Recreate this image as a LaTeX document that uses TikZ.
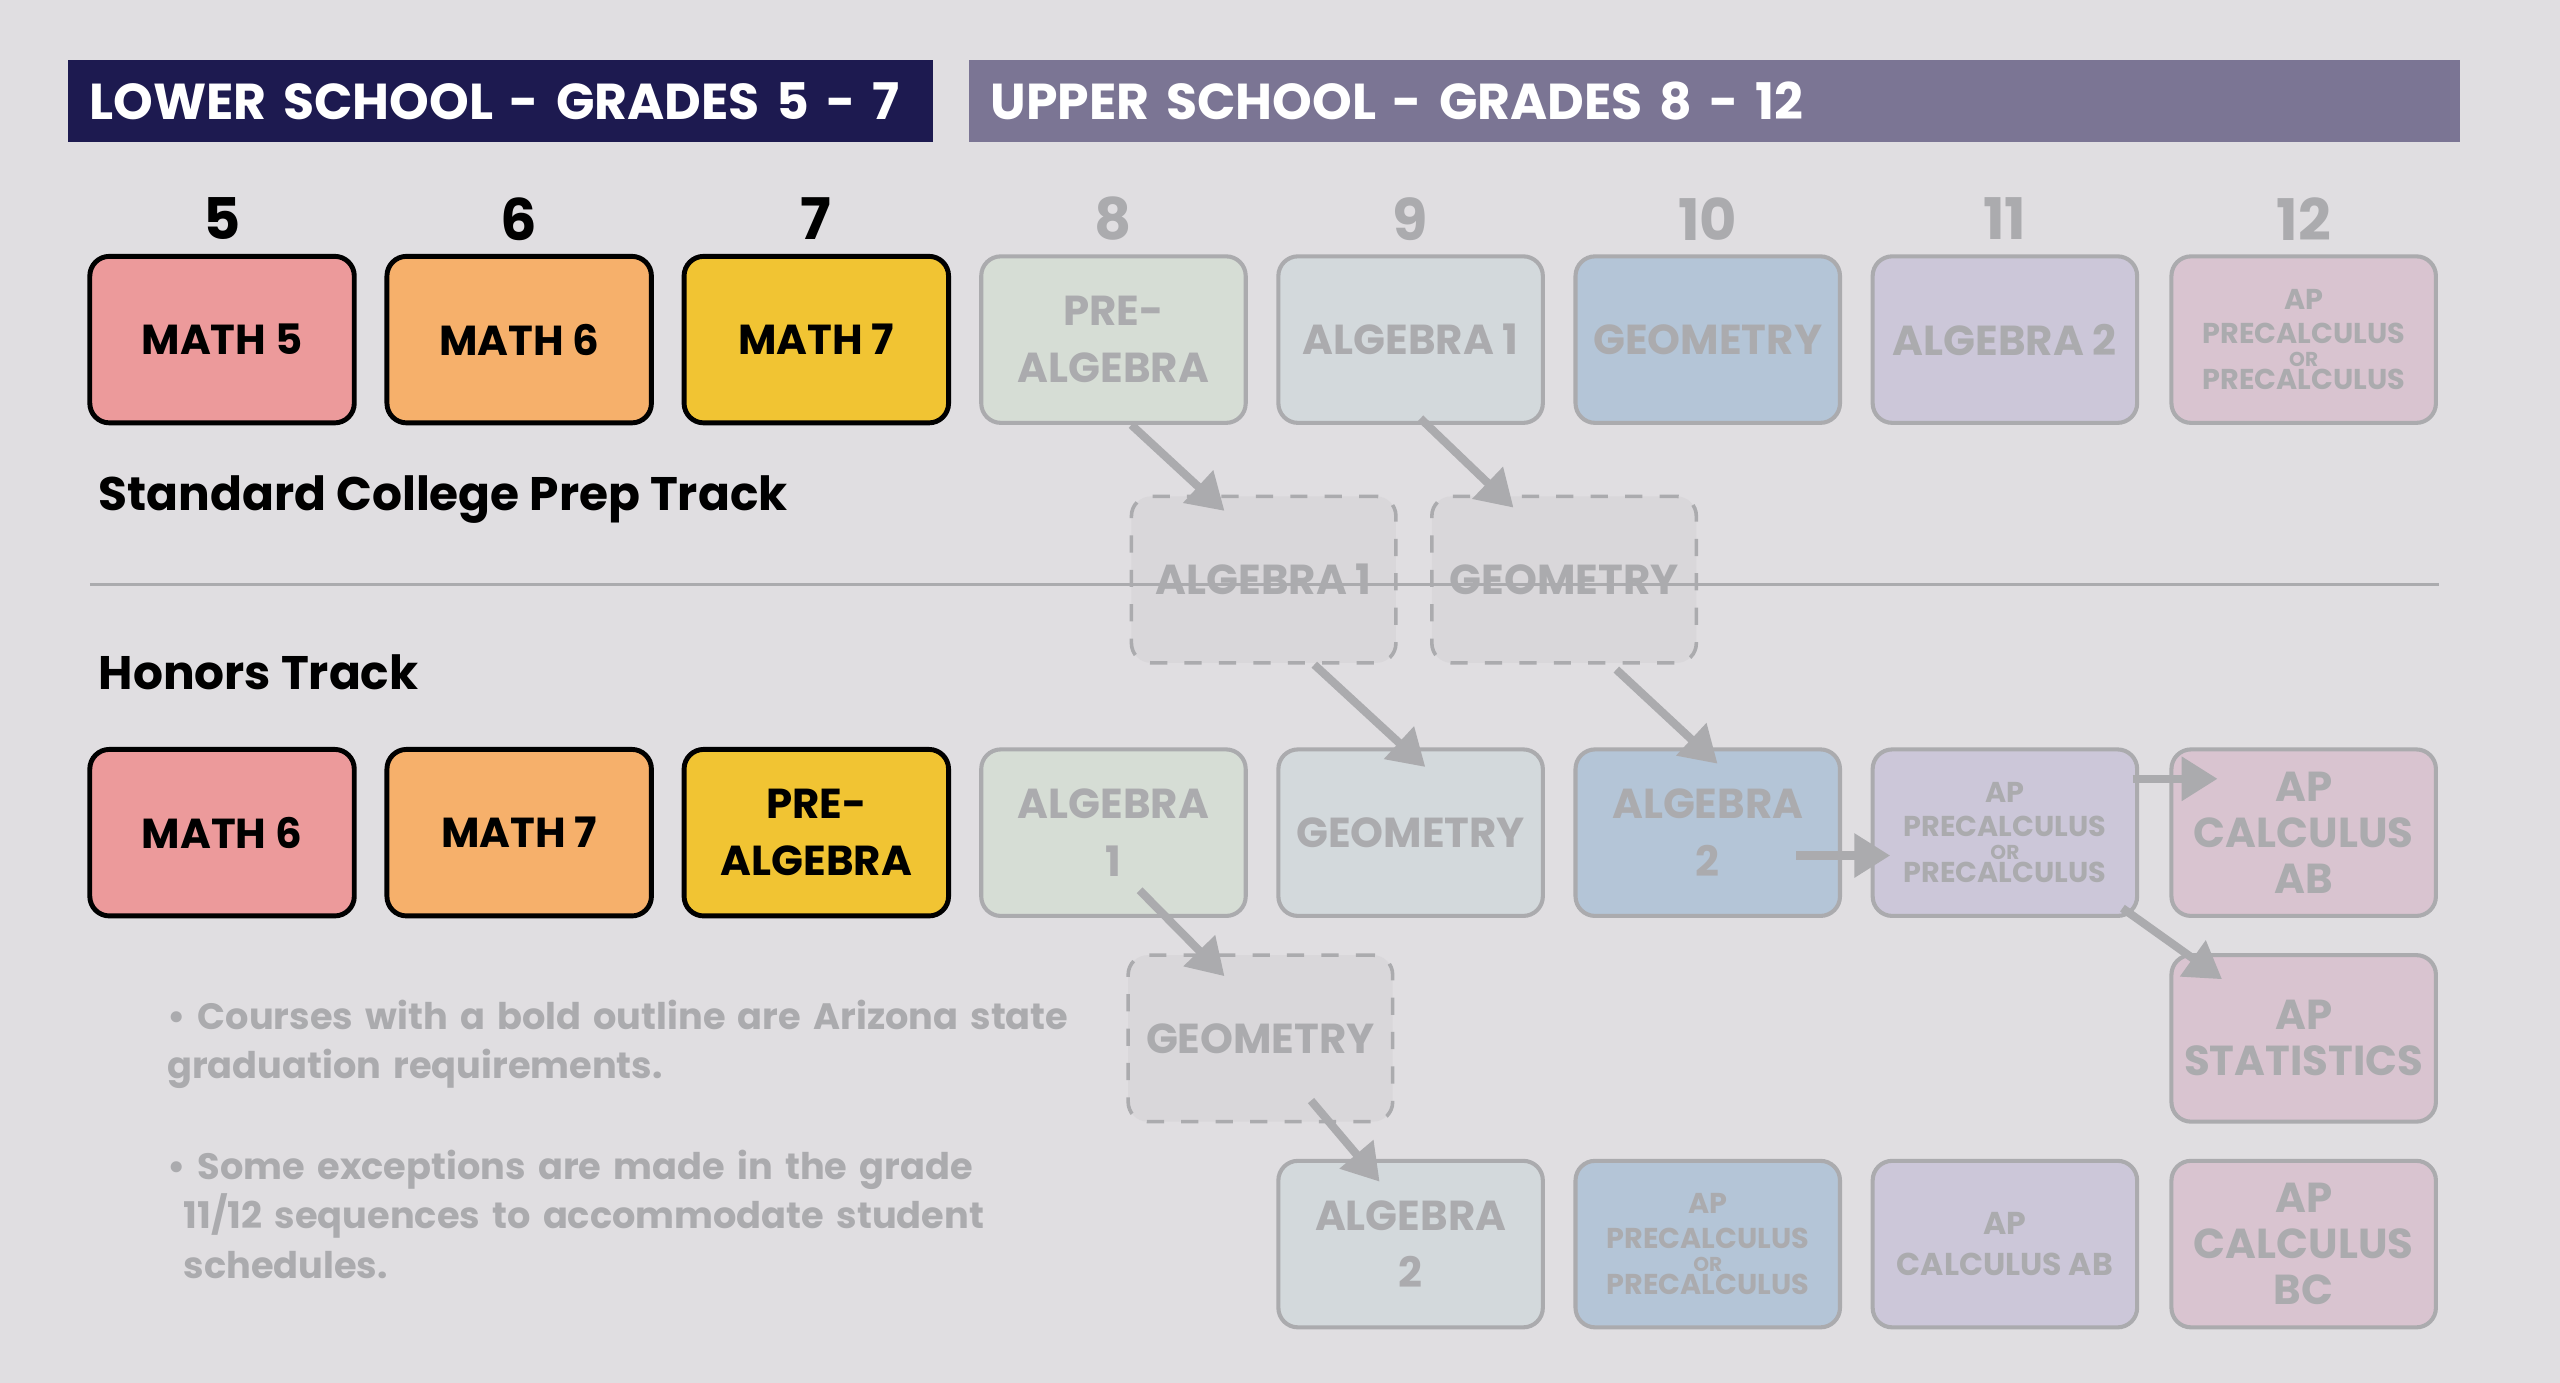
\documentclass[tikz,border=0pt]{standalone}
\usepackage{fontspec}
\setmainfont{Poppins}
\usetikzlibrary{arrows.meta}
\definecolor{bgpaper}{HTML}{E0DEE1}
\definecolor{lowhead}{HTML}{1D1A50}
\definecolor{uphead}{HTML}{7B7594}
\definecolor{fadetext}{HTML}{ABABAE}
\definecolor{redbox}{HTML}{EC9A9B}
\definecolor{orangebox}{HTML}{F6B06B}
\definecolor{yellowbox}{HTML}{F1C433}
\definecolor{greenbox}{HTML}{D6DDD5}
\definecolor{greybox}{HTML}{D3D9DC}
\definecolor{bluebox}{HTML}{B4C5D7}
\definecolor{purplebox}{HTML}{CCC7D9}
\definecolor{pinkbox}{HTML}{D9C4D0}
\definecolor{dashfill}{HTML}{D9D7DA}
\newcommand{\apprecalc}{AP\\PRECALCULUS\\[-2pt]\fontsize{3.5}{4}\selectfont OR\\[-2pt]\fontsize{5}{6}\selectfont PRECALCULUS}
\tikzset{
  course/.style={rounded corners=1.2mm, minimum width=16.2mm, minimum height=10.2mm,
    align=center, font=\fontsize{7.3}{9}\selectfont\bfseries, inner sep=0pt},
  lowbox/.style={course, draw=black, line width=0.3mm, fill=#1},
  upbox/.style={course, draw=fadetext, line width=0.25mm, fill=#1, text=fadetext},
  apbox/.style={upbox=#1, font=\fontsize{5}{6}\selectfont\bfseries},
  dashbox/.style={course, draw=fadetext, dashed, line width=0.22mm, fill=dashfill, text=fadetext},
  grade/.style={font=\fontsize{10}{12}\selectfont\bfseries},
  track/.style={font=\fontsize{8.2}{10}\selectfont\bfseries, anchor=west},
  arr/.style={draw=fadetext, line width=0.5mm, -{Triangle[length=2.2mm,width=2.6mm]}},
}
\begin{document}
\begin{tikzpicture}[x=0.1mm,y=-0.1mm]
    \fill[bgpaper] (0,0) rectangle (1568,847);
    \useasboundingbox (0,0) rectangle (1568,847);

    % Headers
    \node[fill=lowhead, text=white, minimum width=53mm, minimum height=5mm, font=\fontsize{8.8}{10}\selectfont\bfseries, anchor=north west, inner xsep=1.3mm, text width=50.4mm] (lowhead) at (41,36) {LOWER SCHOOL - GRADES 5 - 7};
    \node[fill=uphead, text=white, minimum width=91.3mm, minimum height=5mm, font=\fontsize{8.8}{10}\selectfont\bfseries, anchor=north west, inner xsep=1.3mm, text width=88.7mm] (uphead) at (593,36) {UPPER SCHOOL - GRADES 8 - 12};

    % Grade numbers
    \foreach \g/\x in {5/136,6/318,7/500}
        \node[grade] (g\g) at (\x,134) {\g};
    \foreach \g/\x in {8/682,9/864,10/1046,11/1228,12/1411}
        \node[grade, text=fadetext] (g\g) at (\x,134) {\g};

    % Standard track
    \node[lowbox=redbox] (s5) at (136,208) {MATH 5};
    \node[lowbox=orangebox] (s6) at (318,208) {MATH 6};
    \node[lowbox=yellowbox] (s7) at (500,208) {MATH 7};
    \node[upbox=greenbox] (s8) at (682,208) {PRE-\\[1pt]ALGEBRA};
    \node[upbox=greybox] (s9) at (864,208) {ALGEBRA 1};
    \node[upbox=bluebox] (s10) at (1046,208) {GEOMETRY};
    \node[upbox=purplebox] (s11) at (1228,208) {ALGEBRA 2};
    \node[apbox=pinkbox] (s12) at (1411,208) {\apprecalc};
    \node[dashbox] (s9alt) at (774,355) {ALGEBRA 1};
    \node[dashbox] (s10alt) at (958,355) {GEOMETRY};

    \node[track] (stdlabel) at (48,306) {Standard College Prep Track};
    \draw[fadetext, line width=0.2mm] (55,358) -- (1494,358);
    \node[track] (honlabel) at (48,412) {Honors Track};

    % Honors track
    \node[lowbox=redbox] (h5) at (136,510) {MATH 6};
    \node[lowbox=orangebox] (h6) at (318,510) {MATH 7};
    \node[lowbox=yellowbox] (h7) at (500,510) {PRE-\\[1pt]ALGEBRA};
    \node[upbox=greenbox] (h8) at (682,510) {ALGEBRA\\[1pt]1};
    \node[upbox=greybox] (h9) at (864,510) {GEOMETRY};
    \node[upbox=bluebox] (h10) at (1046,510) {ALGEBRA\\[1pt]2};
    \node[apbox=purplebox] (h11) at (1228,510) {\apprecalc};
    \node[upbox=pinkbox] (h12) at (1411,510) {AP\\[-1pt]CALCULUS\\[-1pt]AB};
    \node[dashbox] (h9alt) at (772,636) {GEOMETRY};
    \node[upbox=pinkbox] (h12b) at (1411,636) {AP\\[-1pt]STATISTICS};
    \node[upbox=greybox] (h10b) at (864,762) {ALGEBRA\\[1pt]2};
    \node[apbox=bluebox] (h11b) at (1046,762) {\apprecalc};
    \node[apbox=purplebox, font=\fontsize{5.5}{7}\selectfont\bfseries] (h12c) at (1228,762) {AP\\CALCULUS AB};
    \node[upbox=pinkbox] (h12d) at (1411,762) {AP\\[-1pt]CALCULUS\\[-1pt]BC};

    % Notes
    \node[anchor=north west, text=fadetext, text width=56mm, font=\fontsize{6.4}{8.6}\selectfont\bfseries] (notes) at (90,600)
        {\textbullet\ Courses with a bold outline are Arizona state graduation requirements.\\[9pt]
         \textbullet\ Some exceptions are made in the grade\\ \hspace*{1mm}11/12 sequences to accommodate student\\ \hspace*{1mm}schedules.};

    % Arrows
    \draw[arr] ([shift={(11,0)}]s8.south) -- ([shift={(-24,10)}]s9alt.north);
    \draw[arr] ([shift={(6,-4)}]s9.south) -- ([shift={(-31,8)}]s10alt.north);
    \draw[arr] ([shift={(31,0)}]s9alt.south) -- ([shift={(9,12)}]h9.north);
    \draw[arr] ([shift={(32,3)}]s10alt.south) -- ([shift={(6,10)}]h10.north);
    \draw[arr] ([shift={(-28,14)}]h10.east) -- ([shift={(12,14)}]h11.west);
    \draw[arr] ([shift={(-4,-33)}]h11.east) -- ([shift={(48,-33)}]h11.east);
    \draw[arr] ([shift={(72,-6)}]h11.south) -- ([shift={(-50,16)}]h12b.north);
    \draw[arr] ([shift={(16,-17)}]h8.south) -- ([shift={(-22,14)}]h9alt.north);
    \draw[arr] ([shift={(31,-14)}]h9alt.south) -- ([shift={(-19,14)}]h10b.north);
\end{tikzpicture}
\end{document}
